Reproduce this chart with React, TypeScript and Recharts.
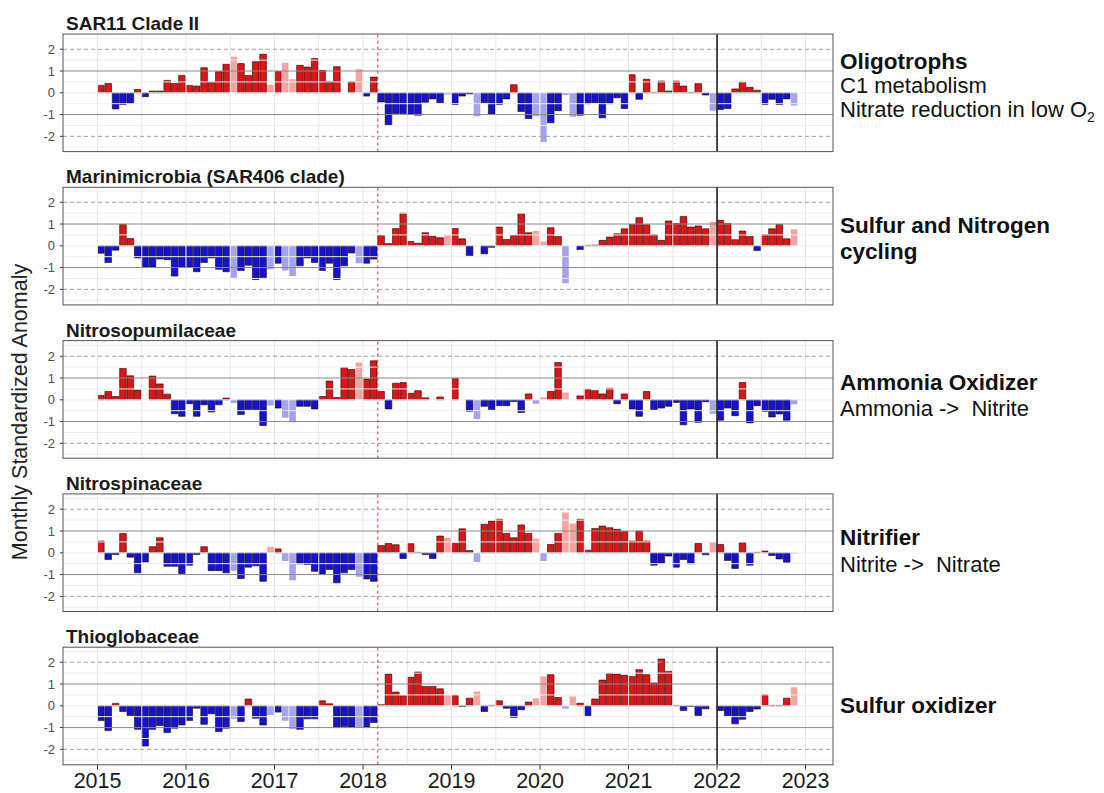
import React from 'react';
import { BarChart, Bar, XAxis, YAxis, ReferenceLine, Cell } from 'recharts';

const START_YEAR = 2015;
const X_MIN = 2014.61;
const X_MAX = 2023.31;
const Y_MIN = -2.7;
const Y_MAX = 2.7;

const interpolatedMonths = [18, 23, 25, 26, 35, 47, 51, 59, 60, 63, 64, 83, 94];
const yearTicks = [2015, 2016, 2017, 2018, 2019, 2020, 2021, 2022, 2023];
const gridX = [2015, 2015.5, 2016, 2016.5, 2017, 2017.5, 2018, 2018.5, 2019, 2019.5, 2020, 2020.5, 2021, 2021.5, 2022, 2022.5, 2023];
const yTicks = [-2, -1, 0, 1, 2];
const gridY = [-2.5, -1.5, -0.5, 0, 0.5, 1.5, 2.5];
const solidLinesY = [-1, 1];
const dashedLinesY = [-2, 2];
const eventLineX = 2018.1667;
const cutLineX = 2022;

const sar11 = [0.34, 0.43, -0.74, -0.54, -0.49, 0.15, -0.18, 0.08, 0.08, 0.57, 0.43, 0.8, 0.34, 0.31, 1.15, 0.49, 0.97, 1.31, 1.65, 1.34, 0.8, 1.43, 1.77, 0.37, 0.98, 1.38, 0.62, 1.26, 1.18, 1.57, 1.03, 0.51, 1.2, null, 0.51, 1.08, -0.15, 0.72,
  -0.42, -1.49, -0.95, -0.95, -0.98, -1.03, -0.43, -0.28, -0.46, -0.08, -0.54, -0.15, -0.05, -1.08, -0.46, -0.97, -0.54, -0.28, 0.37, -0.86, -1.18, -1.08, -2.26, -1.38, -0.82, -0.1, -1.1, -1.03, -0.5, -0.46, -1.15, -0.5, -0.23, -0.72,
  0.83, -0.3, 0.62, 0.02, 0.54, 0.08, 0.54, 0.31, 0.02, 0.42, -0.1, -0.82, -0.77, -0.72, 0.18, 0.49, 0.25, 0.12, -0.54, -0.3, -0.54, -0.28, -0.58];

const marinimicrobia = [-0.34, -0.77, -0.2, 0.98, 0.33, -0.56, -0.97, -0.97, -0.61, -0.64, -1.39, -0.97, -0.97, -1.19, -0.77, -0.56, -1.08, -1.19, -1.47, -1.13, -0.89, -1.55, -1.47, -1.08, -0.8, -1.13, -1.39, -0.92, -0.56, -0.77, -1.13, -0.8, -1.55, -0.92, -0.33, -0.8, -0.8, -0.61,
  0.48, 0.1, 0.8, 1.5, 0.2, 0.12, 0.6, 0.44, 0.37, 0.48, 0.8, 0.32, -0.45, null, -0.37, -0.07, 0.86, 0.29, 0.48, 1.48, 0.6, 0.68, 0.2, 0.83, 0.43, -1.72, null, -0.17, 0.02, 0.03, 0.25, 0.4, 0.55, 0.78,
  0.98, 1.29, 0.97, 0.51, 0.25, 1.14, 1.02, 1.35, 0.86, 0.91, 0.78, 1.09, 1.17, 1.02, 0.28, 0.68, 0.43, -0.22, 0.51, 0.78, 0.98, 0.32, 0.75];

const nitrosopumilaceae = [0.2, 0.38, 0.15, 1.44, 1.1, 0.45, null, 1.09, 0.73, 0.26, -0.64, -0.76, -0.18, -0.76, -0.23, -0.56, -0.23, 0.08, -0.15, -0.68, -0.45, -0.45, -1.18, -0.26, -0.38, -0.83, -1.03, -0.3, -0.3, -0.42, 0.15, 0.86, 0.1, 1.48, 1.39, 1.71, 0.95, 1.79,
  0.38, -0.42, 0.76, 0.79, 0.3, 0.42, 0.09, null, 0.13, null, 0.98, null, -0.53, -0.88, -0.3, -0.45, -0.27, -0.27, -0.08, -0.58, 0.27, -0.18, 0.12, 0.38, 1.71, 0.33, null, 0.18, 0.48, 0.42, 0.27, 0.53, -0.18, 0.27,
  -0.42, -0.76, 0.38, -0.45, -0.38, -0.3, -0.12, -1.15, -0.42, -1.03, -0.09, -0.64, -0.94, -0.38, -0.73, 0.79, -1.06, -0.27, -0.53, -0.79, -0.65, -0.94, -0.2];

const nitrospinaceae = [0.54, -0.31, -0.08, 0.89, -0.2, -0.92, -0.42, 0.28, 0.69, -0.62, -0.62, -0.95, -0.57, -0.08, 0.28, -0.82, -0.82, -0.92, -0.82, -1.18, -0.66, -0.6, -1.31, 0.28, 0.18, -0.38, -1.26, -0.51, -0.54, -0.85, -0.97, -0.77, -1.38, -0.92, -0.77, -1.1, -1.2, -1.31,
  0.34, 0.43, 0.37, -0.26, 0.42, 0.02, -0.08, -0.26, 0.77, 0.68, 0.43, 1.1, 0.1, -0.42, 1.31, 1.46, 1.54, 0.89, 0.69, 1.28, 0.89, 0.65, -0.38, 0.38, 0.89, 1.85, 1.35, 1.54, 0.12, 1.12, 1.23, 1.15, 1.08, 0.97,
  0.54, 1.0, 0.54, -0.57, -0.49, -0.15, -0.66, -0.31, -0.51, 0.43, -0.09, 0.49, 0.38, -0.35, -0.72, 0.46, -0.57, 0.02, 0.08, -0.12, -0.28, -0.43, -0.03];

const thioglobaceae = [-0.68, -1.14, 0.11, -0.26, -0.45, -1.08, -1.85, -1.08, -0.91, -1.23, -1.03, -0.88, -0.68, -0.11, -0.85, -0.37, -1.18, -1.03, -0.6, -0.72, 0.31, -0.57, -0.88, -0.42, -0.29, -0.69, -1.06, -1.08, -0.6, -0.6, 0.23, 0.09, -1.0, -0.95, -0.98, -1.0, -0.98, -0.77,
  0.05, 1.46, 0.63, 0.46, 1.31, 1.55, 0.89, 0.89, 0.78, 0.48, 0.47, -0.03, 0.35, 0.66, -0.26, 0.02, 0.23, -0.11, -0.54, -0.18, 0.17, 0.35, 1.35, 1.43, 0.38, -0.14, 0.43, 0.12, -0.46, 0.31, 1.18, 1.49, 1.46, 1.4,
  1.35, 1.66, 1.43, 1.05, 2.15, 1.58, 0.02, -0.22, -0.03, -0.45, -0.14, null, -0.22, -0.46, -0.83, -0.62, -0.26, -0.15, 0.51, 0.02, 0.02, 0.35, 0.85];

const panelTitles = ['SAR11 Clade II', 'Marinimicrobia (SAR406 clade)', 'Nitrosopumilaceae', 'Nitrospinaceae', 'Thioglobaceae'];
const panelSeries = [sar11, marinimicrobia, nitrosopumilaceae, nitrospinaceae, thioglobaceae];

const FONT = '"Liberation Sans", Arial, Helvetica, sans-serif';
const PLOT_LEFT = 63;
const PLOT_RIGHT = 833;
const PLOT_TOP0 = 34;
const PANEL_STEP = 153.3;
const PLOT_H = 117.6;
const MT = 6;
const MB = 6;

const RED = '#D81818';
const BLUE = '#1414CC';
const LIGHT_RED = '#F5A3A3';
const LIGHT_BLUE = '#A3A3EE';

function barFill(v: number, light: boolean) {
  if (v >= 0) return light ? LIGHT_RED : RED;
  return light ? LIGHT_BLUE : BLUE;
}

function Panel({ values, index, showX }: { values: (number | null)[]; index: number; showX: boolean }) {
  const top = PLOT_TOP0 + PANEL_STEP * index;
  const data = values.map((v, i) => ({
    t: START_YEAR + (i + 0.5) / 12,
    v,
    light: interpolatedMonths.includes(i),
  }));
  const axisH = showX ? 30 : 0;
  const height = MT + PLOT_H + (showX ? axisH : MB);
  return (
    <div style={{ position: 'absolute', left: 0, top: top - MT }}>
      <BarChart
        width={1104}
        height={height}
        data={data}
        margin={{ top: MT, right: 1104 - PLOT_RIGHT, bottom: showX ? 0 : MB, left: PLOT_LEFT - 40 }}
        barSize={6.6}
        style={{ overflow: 'visible' }}
      >
        <XAxis
          dataKey="t"
          type="number"
          domain={[X_MIN, X_MAX]}
          ticks={yearTicks}
          allowDataOverflow
          hide={!showX}
          height={axisH}
          interval={0}
          axisLine={false}
          tickLine={{ stroke: '#333' }}
          tickSize={5}
          tickMargin={3}
          tick={{ fontSize: 21.5, fill: '#1a1a1a', fontFamily: FONT }}
        />
        <YAxis
          type="number"
          domain={[Y_MIN, Y_MAX]}
          ticks={yTicks}
          allowDataOverflow
          width={40}
          axisLine={false}
          tickLine={{ stroke: '#333' }}
          tickSize={3}
          tickMargin={5}
          tick={{ fontSize: 13, fill: '#4d4d4d', fontFamily: FONT }}
        />
        {gridX.map((x) => (
          <ReferenceLine key={'gx' + x} x={x} stroke="#e6e6e6" strokeWidth={1} />
        ))}
        {gridY.map((y) => (
          <ReferenceLine key={'gy' + y} y={y} stroke="#ededed" strokeWidth={1} />
        ))}
        {solidLinesY.map((y) => (
          <ReferenceLine key={'sy' + y} y={y} stroke="#8a8a8a" strokeWidth={1} />
        ))}
        {dashedLinesY.map((y) => (
          <ReferenceLine key={'dy' + y} y={y} stroke="#a0a0a0" strokeWidth={1} strokeDasharray="4 3" />
        ))}
        <Bar dataKey="v" isAnimationActive={false}>
          {data.map((d, i) => (
            <Cell
              key={i}
              fill={barFill(d.v ?? 0, d.light)}
              stroke={d.light ? 'none' : '#1a0000'}
              strokeWidth={d.light ? 0 : 0.6}
            />
          ))}
        </Bar>
        <ReferenceLine x={eventLineX} stroke="#d33c3c" strokeWidth={1} strokeDasharray="3 3" />
        <ReferenceLine x={cutLineX} stroke="#111" strokeWidth={1.5} />
      </BarChart>
    </div>
  );
}

export default function App() {
  const zeroY = (k: number) => PLOT_TOP0 + PANEL_STEP * k + PLOT_H / 2;
  const bold = { fontFamily: FONT, fontWeight: 700, fontSize: 22.5, fill: '#111' } as const;
  const reg = { fontFamily: FONT, fontWeight: 400, fontSize: 22, fill: '#111' } as const;
  const LX = 840;
  return (
    <div style={{ position: 'absolute', left: 0, top: 0, width: 1104, height: 793, background: '#fff', fontFamily: FONT, overflow: 'hidden' }}>
      {panelSeries.map((s, k) => (
        <Panel key={k} values={s} index={k} showX={k === panelSeries.length - 1} />
      ))}
      <svg width={1104} height={793} style={{ position: 'absolute', left: 0, top: 0, pointerEvents: 'none' }}>
        {panelSeries.map((_, k) => (
          <rect key={'b' + k} x={PLOT_LEFT} y={PLOT_TOP0 + PANEL_STEP * k} width={PLOT_RIGHT - PLOT_LEFT} height={PLOT_H} fill="none" stroke="#555" strokeWidth={1} />
        ))}
        {panelTitles.map((t, k) => (
          <text key={'t' + k} x={66} y={30 + PANEL_STEP * k} style={{ fontFamily: FONT, fontWeight: 700, fontSize: 19, fill: '#1a1a1a' }}>{t}</text>
        ))}
        <text x={20} y={412} transform="rotate(-90 20 412)" textAnchor="middle" dominantBaseline="central" style={{ fontFamily: FONT, fontSize: 21.5, fill: '#222' }}>Monthly Standardized Anomaly</text>

        <text x={LX} y={zeroY(0) - 24} style={bold}>Oligotrophs</text>
        <text x={LX} y={zeroY(0)} style={reg}>C1 metabolism</text>
        <text x={LX} y={zeroY(0) + 24} style={reg}>
          Nitrate reduction in low O<tspan dy={5} style={{ fontSize: 14 }}>2</tspan>
        </text>

        <text x={LX} y={zeroY(1) - 13} style={bold}>Sulfur and Nitrogen</text>
        <text x={LX} y={zeroY(1) + 13} style={bold}>cycling</text>

        <text x={LX} y={zeroY(2) - 9} style={bold}>Ammonia Oxidizer</text>
        <text x={LX} y={zeroY(2) + 17} style={reg} xmlSpace="preserve">Ammonia -&gt;  Nitrite</text>

        <text x={LX} y={zeroY(3) - 8} style={bold}>Nitrifier</text>
        <text x={LX} y={zeroY(3) + 19} style={reg} xmlSpace="preserve">Nitrite -&gt;  Nitrate</text>

        <text x={LX} y={zeroY(4) + 7} style={bold}>Sulfur oxidizer</text>
      </svg>
    </div>
  );
}
